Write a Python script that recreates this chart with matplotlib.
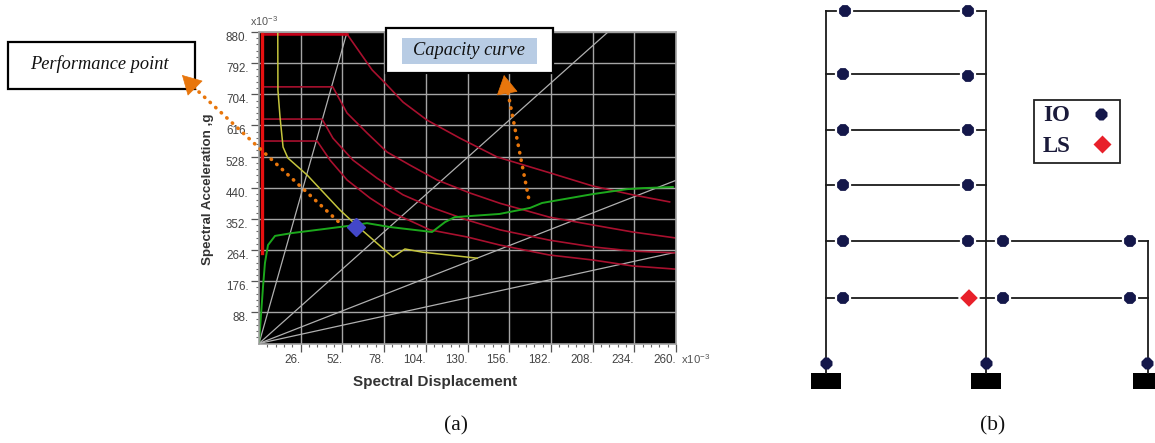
import matplotlib
matplotlib.use("Agg")
import matplotlib.pyplot as plt
from matplotlib.patches import Rectangle

plt.rcParams["font.family"] = ["Liberation Sans", "DejaVu Sans"]
plt.rcParams["mathtext.default"] = "regular"

W, H = 1155, 443

# spectrum plot, values in 1e-3 units
x_ticks = [26, 52, 78, 104, 130, 156, 182, 208, 234, 260]
y_ticks = [88, 176, 264, 352, 440, 528, 616, 704, 792, 880]

capacity_x = [0, 2.5, 3.7, 5.6, 10, 20.6, 39.9, 60.5, 67.3, 81.7, 107.9, 116, 122, 150, 169, 176.5, 208, 229.4, 239.4, 258]
capacity_y = [1, 160, 227, 278, 304, 312, 323, 335, 340, 329, 315, 343, 357, 366, 383, 397, 422, 436, 439, 442]

demand_x = [11.7, 11.8, 13.1, 15, 18, 30, 50.5, 60.5, 83.5, 91, 102, 136]
demand_y = [880, 716, 640, 555, 524, 476, 377, 335, 244, 267, 258, 241]

spec1_x = [2, 54.9, 70.5, 78.6, 89.8, 104.8, 125.3, 148.4, 181.4, 208, 233, 256]
spec1_y = [874, 874, 773, 736, 682, 631, 580, 527, 482, 445, 420, 400]
spec2_x = [2, 46, 54.9, 67.3, 79.8, 94.1, 111, 131.6, 150.3, 181, 208, 233, 260]
spec2_y = [725, 725, 651, 595, 541, 504, 462, 425, 396, 357, 335, 315, 298]
spec3_x = [2, 39.3, 46.1, 58.6, 73.6, 89.8, 108.5, 129.7, 150.3, 181, 208, 233, 260]
spec3_y = [634, 634, 580, 518, 467, 420, 383, 349, 321, 292, 273, 261, 256]
spec4_x = [2, 36.2, 44.3, 54.9, 69.2, 83.5, 106.6, 129.7, 150.3, 181, 208, 233, 260]
spec4_y = [572, 572, 518, 462, 411, 369, 321, 301, 278, 250, 236, 219, 210]

radial_ends = [(54.9, 880), (217.6, 880), (260, 461), (260, 258)]

perf_x, perf_y = 60.5, 329

# frame drawing, in image pixels
col_x = [826, 986, 1148]
floor_y = [11, 74, 130, 185, 240.5, 298]
base_y = 373
foot_w, foot_h = 30, 15.5

io_x = [845, 968, 843, 968, 843, 968, 843, 968, 843, 968, 1003, 1129.5, 843, 1003, 1129.5, 826, 985.5, 1147]
io_y = [11, 11, 74, 76, 130, 130, 185, 185, 240.5, 240.5, 240.5, 240.5, 298, 298, 298, 363, 363, 363]
ls_x = [969]
ls_y = [298]

fig = plt.figure(figsize=(W / 100, H / 100), dpi=100)

# axes box from the reference pixels
left, right, top, bottom = 259, 676, 32, 343.5
ax = fig.add_axes([left / W, 1 - bottom / H, (right - left) / W, (bottom - top) / H])
ax.set_facecolor("black")
ax.set_xlim(0, 260)
ax.set_ylim(0, 880)

ax.set_xticks(x_ticks)
ax.set_xticklabels([f"{v}." for v in x_ticks], ha="right")
ax.set_yticks(y_ticks)
ax.set_yticklabels([f"{v}." for v in y_ticks], va="top")
ax.set_xticks([i * 5.2 for i in range(1, 51)], minor=True)
ax.set_yticks([i * 17.6 for i in range(1, 51)], minor=True)
ax.tick_params(which="major", length=5.5, width=0.9, color="#555555", labelsize=8.4, labelcolor="#444444", pad=2)
ax.tick_params(which="minor", length=2.5, width=0.8, color="#666666")
ax.grid(True, which="major", color="#a5a5a5", linewidth=1.0)
ax.set_axisbelow(True)
for s in ax.spines.values():
    s.set_color("#a0a0a0")
    s.set_linewidth(1.2)

for ex, ey in radial_ends:
    ax.plot([0, ex], [0, ey], color="#b0b0b0", linewidth=0.9)

ax.plot(spec1_x, spec1_y, color="#a8102e", linewidth=1.2)
ax.plot(spec1_x[:2], spec1_y[:2], color="#c80018", linewidth=1.8)
ax.plot(spec2_x, spec2_y, color="#a8102e", linewidth=1.2)
ax.plot(spec3_x, spec3_y, color="#a8102e", linewidth=1.2)
ax.plot(spec4_x, spec4_y, color="#a8102e", linewidth=1.2)
ax.plot([2, 2], [880, 255], color="#e81010", linewidth=2.4)

ax.plot(demand_x, demand_y, color="#c4c43c", linewidth=1.1)
ax.plot(capacity_x, capacity_y, color="#1ca81c", linewidth=1.4)
ax.plot(perf_x, perf_y, marker="D", markersize=9.2, color="#4347c8", linestyle="none", zorder=5)

# everything else goes on an overlay in image pixels
ov = fig.add_axes([0, 0, 1, 1])
ov.set_xlim(0, W)
ov.set_ylim(H, 0)
ov.axis("off")
ov.patch.set_alpha(0)

ov.text(435.5, 382, "Spectral Displacement", fontsize=11, fontweight="bold", color="#333333", ha="center", va="center")
ov.text(208, 189, "Spectral Acceleration ,g", fontsize=9.6, fontweight="bold", color="#333333", rotation=90, ha="center", va="center")
ov.text(250, 21, "x10$^{-3}$", fontsize=7.8, color="#555555", ha="left", va="center")
ov.text(681, 359, "x10$^{-3}$", fontsize=8.2, color="#555555", ha="left", va="center")

# callout boxes
ov.add_patch(Rectangle((8, 42), 187, 47, facecolor="white", edgecolor="black", linewidth=1.6, zorder=4))
ov.text(99, 64, "Performance point", family="Liberation Serif", style="italic", fontsize=13.2, color="#111111", ha="center", va="center", zorder=5)
ov.add_patch(Rectangle((386, 28), 167, 45, facecolor="white", edgecolor="black", linewidth=1.6, zorder=4))
ov.add_patch(Rectangle((402, 38), 135, 26, facecolor="#b8cce4", edgecolor="none", zorder=5))
ov.text(469, 50, "Capacity curve", family="Liberation Serif", style="italic", fontsize=13.2, color="#111111", ha="center", va="center", zorder=6)

# orange dotted arrows
orange = "#e8760c"
head = "-|>,head_length=0.75,head_width=0.42"
ov.plot([199, 342], [92, 225], color=orange, linewidth=2.6, linestyle=(0, (0.1, 2.0)), dash_capstyle="round", zorder=6)
ov.plot([508, 529], [93, 200], color=orange, linewidth=2.6, linestyle=(0, (0.1, 2.0)), dash_capstyle="round", zorder=6)
ov.annotate("", xy=(182, 75), xytext=(197, 90), zorder=7,
            arrowprops=dict(arrowstyle=head, color=orange, mutation_scale=17, shrinkA=0, shrinkB=0, linewidth=0.5))
ov.annotate("", xy=(504, 75), xytext=(507, 92), zorder=7,
            arrowprops=dict(arrowstyle=head, color=orange, mutation_scale=17, shrinkA=0, shrinkB=0, linewidth=0.5))

# frame (b)
frame_c = "#1a1a1a"
ov.plot([col_x[0], col_x[0]], [floor_y[0], base_y], color=frame_c, linewidth=1.3)
ov.plot([col_x[1], col_x[1]], [floor_y[0], base_y], color=frame_c, linewidth=1.3)
ov.plot([col_x[2], col_x[2]], [floor_y[4], base_y], color=frame_c, linewidth=1.3)
for i, fy in enumerate(floor_y):
    end = col_x[2] if i >= 4 else col_x[1]
    ov.plot([col_x[0], end], [fy, fy], color=frame_c, linewidth=1.3)
for cx in col_x:
    ov.add_patch(Rectangle((cx - foot_w / 2, base_y), foot_w, foot_h, facecolor="black", edgecolor="none"))

navy = "#14174a"
ov.plot(io_x[:15], io_y[:15], linestyle="none", marker="8", markersize=10.4, color=navy, markeredgecolor="white", markeredgewidth=1.6)
ov.plot(io_x[15:], io_y[15:], linestyle="none", marker="8", markersize=8.8, color=navy, markeredgecolor="none")
ov.plot(ls_x, ls_y, linestyle="none", marker="D", markersize=10, color="#e8202a", markeredgecolor="white", markeredgewidth=1.2)

# legend box
ov.add_patch(Rectangle((1033.5, 99.5), 86, 63.5, facecolor="white", edgecolor="#222222", linewidth=1.3))
ov.text(1043, 115, "IO", family="Liberation Serif", fontweight="bold", fontsize=16.5, color="#1a1a3a", ha="left", va="center")
ov.text(1043, 146, "LS", family="Liberation Serif", fontweight="bold", fontsize=16.5, color="#1a1a3a", ha="left", va="center")
ov.plot([1101], [114], linestyle="none", marker="8", markersize=8.8, color=navy, markeredgecolor="none")
ov.plot([1102], [144], linestyle="none", marker="D", markersize=8.8, color="#e8202a", markeredgecolor="none")

ov.text(456, 426, "(a)", family="Liberation Serif", fontsize=15.5, color="#111111", ha="center", va="center")
ov.text(992.5, 426, "(b)", family="Liberation Serif", fontsize=15.5, color="#111111", ha="center", va="center")

fig.savefig("out.png", dpi=100)
